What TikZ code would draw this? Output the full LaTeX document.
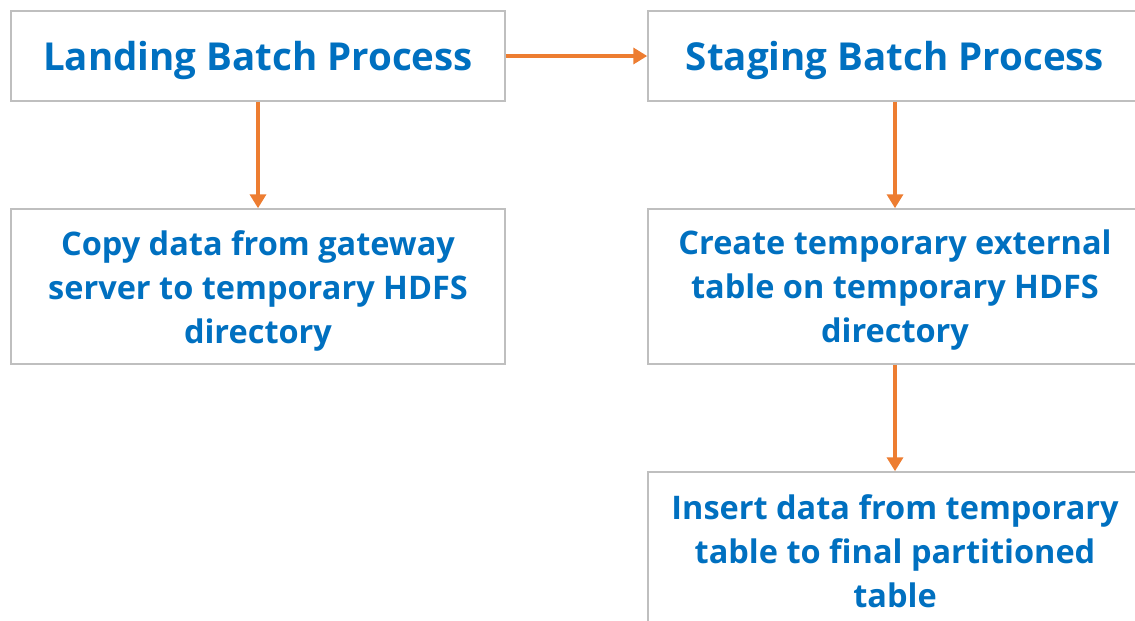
\documentclass[tikz,border=0pt]{standalone}
\usepackage{fontspec}
\setmainfont{Open Sans}[BoldFont={Open Sans Bold}]
\usetikzlibrary{arrows.meta}
\definecolor{txtblue}{HTML}{0070C0}
\definecolor{arrorange}{HTML}{ED7D31}
\definecolor{boxgray}{HTML}{BFBFBF}
\tikzset{
  titlebox/.style={draw=boxgray, line width=1.5pt, minimum width=494pt, minimum height=90pt, inner sep=0pt},
  bodybox/.style={draw=boxgray, line width=1.5pt, minimum width=494pt, minimum height=155pt, inner sep=0pt},
  titletext/.style={inner sep=0pt, text=txtblue, font=\bfseries\fontsize{38.5}{44}\selectfont, align=center},
  bodytext/.style={inner sep=0pt, text=txtblue, font=\bfseries\fontsize{32.5}{44}\selectfont, align=center},
  flow/.style={draw=arrorange, line width=4pt, -{Triangle[length=14pt,width=16pt]}}
}
\begin{document}
\begin{tikzpicture}[x=1pt,y=-1pt]
\useasboundingbox (0,0) rectangle (1135,621);
\clip (0,0) rectangle (1135,621);
\node[titlebox] (land) at (258,56) {};
\node[titlebox] (stag) at (895,56) {};
\node[bodybox] (copy) at (258,286.5) {};
\node[bodybox] (create) at (895,286.5) {};
\node[bodybox] (insert) at (895,549.5) {};
\node[titletext] (landT) at ([yshift=-4pt]land.center) {Landing Batch Process};
\node[titletext] (stagT) at ([yshift=-4pt]stag.center) {Staging Batch Process};
\node[bodytext] (copyT) at ([yshift=-4pt]copy.center) {Copy data from gateway\\server to temporary HDFS\\directory};
\node[bodytext] (createT) at ([yshift=-4pt]create.center) {Create temporary external\\table on temporary HDFS\\directory};
\node[bodytext] (insertT) at ([yshift=-2pt]insert.center) {Insert data from temporary\\table to final partitioned\\table};
\draw[flow] (land.east) -- (stag.west);
\draw[flow] (land.south) -- (copy.north);
\draw[flow] (stag.south) -- (create.north);
\draw[flow] (create.south) -- (insert.north);
\end{tikzpicture}
\end{document}
